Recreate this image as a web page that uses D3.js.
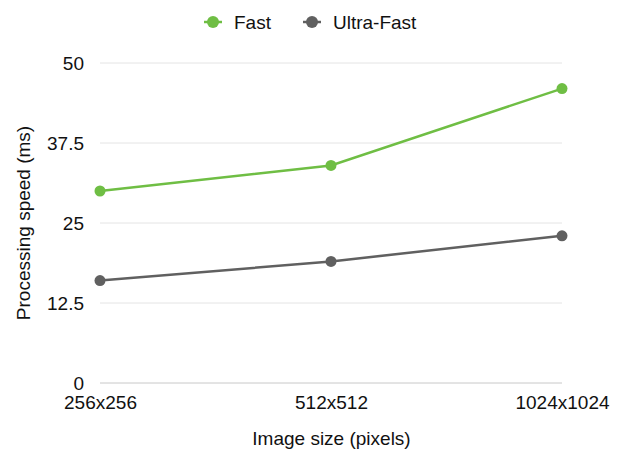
<!DOCTYPE html>
<html><head><meta charset="utf-8">
<script src="https://cdn.jsdelivr.net/npm/d3@7"></script>
<style>body{margin:0;background:#fff;}svg{display:block;font-family:"Liberation Sans",Helvetica,Arial,sans-serif;}</style>
</head><body><svg id="c" width="625" height="450"></svg>
<script>
const categories = ["256x256", "512x512", "1024x1024"];
const fastValues = [30, 34, 46];
const ultraFastValues = [16, 19, 23];
const yTicks = [0, 12.5, 25, 37.5, 50];
const seriesNames = ["Fast", "Ultra-Fast"];
const colors = ["#6fbe44", "#606060"];

const FS = 19;
const FF = "Liberation Sans, Helvetica, Arial, sans-serif";
const svg = d3.select("#c");
const m = {left: 100, right: 63, top: 63, bottom: 67};
const W = 625, H = 450;
const x = d3.scalePoint().domain(categories).range([m.left, W - m.right]);
const y = d3.scaleLinear().domain([0, 50]).range([H - m.bottom, m.top]);

// grid
svg.append("g").selectAll("line").data(yTicks).join("line")
  .attr("x1", m.left).attr("x2", W - m.right)
  .attr("y1", d => y(d)).attr("y2", d => y(d))
  .attr("stroke", d => d === 0 ? "#c8c8c8" : "#e4e4e4").attr("stroke-width", 1);

// y axis
const ya = svg.append("g").attr("transform", `translate(${m.left},0)`)
  .call(d3.axisLeft(y).tickValues(yTicks).tickSize(0).tickPadding(16).tickFormat(d => String(d)));
ya.select(".domain").remove();
ya.attr("font-size", FS).attr("font-family", FF);
ya.selectAll("text").attr("fill", "#111");

// x axis
const xa = svg.append("g").attr("transform", `translate(0,${H - m.bottom})`)
  .call(d3.axisBottom(x).tickSize(0).tickPadding(13));
xa.select(".domain").remove();
xa.attr("font-size", FS).attr("font-family", FF);
xa.selectAll("text").attr("fill", "#111");

// titles
svg.append("text").attr("x", (m.left + W - m.right) / 2 + 0.5).attr("y", 445)
  .attr("text-anchor", "middle").attr("font-size", FS).attr("fill", "#111").text("Image size (pixels)");
svg.append("text").attr("transform", `translate(30,${(m.top + H - m.bottom) / 2}) rotate(-90)`)
  .attr("text-anchor", "middle").attr("font-size", FS).attr("fill", "#111").text("Processing speed (ms)");

// series
const series = [fastValues, ultraFastValues];
const line = d3.line().x((d, i) => x(categories[i])).y(d => y(d));
series.forEach((vals, si) => {
  svg.append("path").datum(vals).attr("d", line).attr("fill", "none")
    .attr("stroke", colors[si]).attr("stroke-width", 2.5);
  svg.append("g").selectAll("circle").data(vals).join("circle")
    .attr("cx", (d, i) => x(categories[i])).attr("cy", d => y(d)).attr("r", 5.5)
    .attr("fill", colors[si]);
});

// legend
const legX = [213, 312];
seriesNames.forEach((n, i) => {
  const g = svg.append("g").attr("transform", `translate(${legX[i]},22)`);
  g.append("line").attr("x1", -9).attr("x2", 9).attr("stroke", colors[i]).attr("stroke-width", 2.5);
  g.append("circle").attr("r", 6).attr("fill", colors[i]);
  g.append("text").attr("x", 21).attr("y", 7).attr("font-size", FS).attr("fill", "#111").text(n);
});
</script></body></html>
